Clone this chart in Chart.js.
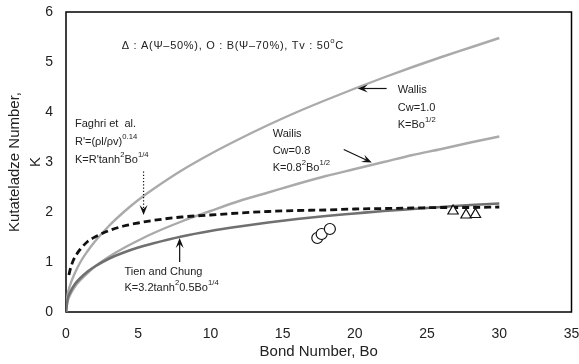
<!DOCTYPE html>
<html><head><meta charset="utf-8">
<script src="https://cdn.jsdelivr.net/npm/chart.js@4/dist/chart.umd.min.js"></script>
<style>html,body{margin:0;padding:0;background:#fff;}</style>
</head><body>
<canvas id="c" width="579" height="364"></canvas>
<script>
// ---- data ----
const boCurve   = [0,0.1,0.3,0.6,1,1.5,2,3,4,5,6,8,10,12,14,16,18,20,22,24,26,28,30];
const wallis10  = [0,0.32,0.55,0.77,1.0,1.22,1.41,1.73,2.0,2.24,2.45,2.83,3.16,3.46,3.74,4.0,4.24,4.47,4.69,4.9,5.1,5.29,5.48];
const wallis08  = [0,0.2,0.35,0.5,0.64,0.78,0.91,1.11,1.28,1.43,1.57,1.81,2.02,2.22,2.39,2.56,2.72,2.86,3.0,3.14,3.26,3.39,3.51];
const tienChung = [0,0.24,0.40,0.55,0.68,0.81,0.91,1.07,1.19,1.29,1.37,1.51,1.62,1.71,1.79,1.86,1.92,1.97,2.02,2.06,2.10,2.14,2.17];
const boFaghri  = [0.2,0.3,0.5,0.75,1,1.5,2,3,4,5,6,8,10,12,14,16,18,20,22,24,26,28,30];
const faghri    = [0.74,0.86,1.03,1.16,1.26,1.41,1.50,1.63,1.72,1.78,1.83,1.90,1.94,1.98,2.01,2.03,2.04,2.06,2.07,2.08,2.09,2.09,2.10];
const boA = [26.8,27.7,28.35];
const kA  = [2.02,1.94,1.95];
const boB = [17.4,17.7,18.27];
const kB  = [1.48,1.56,1.66];
const xTickValues = [0,5,10,15,20,25,30,35];
const yTickValues = [0,1,2,3,4,5,6];

const pts = (xs, ys) => xs.map((x, i) => ({x, y: ys[i]}));
const FONT = '"Liberation Sans", Arial, sans-serif';
const INK = '#222';

function rich(ctx, x, y, parts, size, spacing) {
  let cx = x;
  ctx.letterSpacing = (spacing || 0) + 'px';
  for (const p of parts) {
    const s = p.sup ? size * 0.7 : size;
    ctx.font = s + 'px ' + FONT;
    ctx.fillText(p.t, cx, p.sup ? y - size * 0.42 : y);
    cx += ctx.measureText(p.t).width;
  }
  ctx.letterSpacing = '0px';
}
function arrow(ctx, x1, y1, x2, y2, dotted) {
  const a = Math.atan2(y2 - y1, x2 - x1);
  const L = 10, W = 4;
  ctx.save();
  ctx.strokeStyle = '#111'; ctx.fillStyle = '#111'; ctx.lineWidth = 1.2;
  if (dotted) ctx.setLineDash([1.2, 2]);
  ctx.beginPath(); ctx.moveTo(x1, y1);
  ctx.lineTo(x2 - Math.cos(a) * L * 0.6, y2 - Math.sin(a) * L * 0.6); ctx.stroke();
  ctx.setLineDash([]);
  ctx.beginPath();
  ctx.moveTo(x2, y2);
  ctx.lineTo(x2 - Math.cos(a) * L - Math.sin(a) * W, y2 - Math.sin(a) * L + Math.cos(a) * W);
  ctx.lineTo(x2 - Math.cos(a) * L * 0.6, y2 - Math.sin(a) * L * 0.6);
  ctx.lineTo(x2 - Math.cos(a) * L + Math.sin(a) * W, y2 - Math.sin(a) * L - Math.cos(a) * W);
  ctx.closePath(); ctx.fill();
  ctx.restore();
}

const annot = {
  id: 'annot',
  beforeDatasetsDraw(chart) {
    const {ctx, chartArea: a} = chart;
    ctx.save();
    ctx.strokeStyle = '#000'; ctx.lineWidth = 1.5;
    ctx.strokeRect(a.left, a.top, a.right - a.left, a.bottom - a.top);
    ctx.restore();
  },
  afterDatasetsDraw(chart) {
    const {ctx} = chart;
    const xs = chart.scales.x, ys = chart.scales.y;
    const X = v => xs.getPixelForValue(v), Y = v => ys.getPixelForValue(v);
    ctx.save();
    ctx.fillStyle = INK; ctx.textBaseline = 'middle'; ctx.textAlign = 'left';
    const fs = 11;
    rich(ctx, X(3.86), Y(5.32), [{t:'\u0394 : A(\u03A8\u201350%), O : B(\u03A8\u201370%), Tv : 50'},{t:'o',sup:true},{t:'C'}], fs, 0.7);
    rich(ctx, X(0.62), Y(3.77), [{t:'Faghri et  al.'}], fs);
    rich(ctx, X(0.62), Y(3.41), [{t:'R\'=(\u03C1l/\u03C1v)'},{t:'0.14',sup:true}], fs);
    rich(ctx, X(0.62), Y(3.04), [{t:'K=R\'tanh'},{t:'2',sup:true},{t:'Bo'},{t:'1/4',sup:true}], fs);
    rich(ctx, X(22.97), Y(4.45), [{t:'Wallis'}], fs);
    rich(ctx, X(22.97), Y(4.09), [{t:'Cw=1.0'}], fs);
    rich(ctx, X(22.97), Y(3.75), [{t:'K=Bo'},{t:'1/2',sup:true}], fs);
    rich(ctx, X(14.31), Y(3.57), [{t:'Wailis'}], fs);
    rich(ctx, X(14.31), Y(3.23), [{t:'Cw=0.8'}], fs);
    rich(ctx, X(14.31), Y(2.89), [{t:'K=0.8'},{t:'2',sup:true},{t:'Bo'},{t:'1/2',sup:true}], fs);
    rich(ctx, X(4.05), Y(0.80), [{t:'Tien and Chung'}], fs);
    rich(ctx, X(4.05), Y(0.48), [{t:'K=3.2tanh'},{t:'2',sup:true},{t:'0.5Bo'},{t:'1/4',sup:true}], fs);
    arrow(ctx, X(5.37), Y(2.81), X(5.37), Y(1.94), true);
    arrow(ctx, X(22.2), Y(4.47), X(20.2), Y(4.47), false);
    arrow(ctx, X(19.23), Y(3.25), X(21.17), Y(2.99), false);
    arrow(ctx, X(7.87), Y(1.0), X(7.87), Y(1.48), false);
    ctx.restore();
  }
};

new Chart(document.getElementById('c'), {
  type: 'scatter',
  data: {
    datasets: [
      {data: pts(boA, kA), pointStyle: 'triangle', pointRadius: 6, backgroundColor: '#fff', borderColor: '#111', borderWidth: 1.2, order: 0},
      {data: pts(boB, kB), pointStyle: 'circle', pointRadius: 5.5, backgroundColor: '#fff', borderColor: '#111', borderWidth: 1.2, order: 0},
      {data: pts(boFaghri, faghri), showLine: true, pointRadius: 0, borderColor: '#111', borderWidth: 2.8, borderDash: [7, 4], cubicInterpolationMode: 'monotone', order: 1},
      {data: pts(boCurve, tienChung), showLine: true, pointRadius: 0, borderColor: '#707070', borderWidth: 2.6, cubicInterpolationMode: 'monotone', order: 2},
      {data: pts(boCurve, wallis08), showLine: true, pointRadius: 0, borderColor: '#aaaaaa', borderWidth: 2.4, cubicInterpolationMode: 'monotone', order: 3},
      {data: pts(boCurve, wallis10), showLine: true, pointRadius: 0, borderColor: '#aaaaaa', borderWidth: 2.4, cubicInterpolationMode: 'monotone', order: 3}
    ]
  },
  options: {
    responsive: false, animation: false, devicePixelRatio: 1,
    layout: {padding: {top: 12, right: 7.5, left: 0, bottom: 0}},
    plugins: {legend: {display: false}, tooltip: {enabled: false}},
    scales: {
      x: {
        type: 'linear', min: 0, max: 35,
        afterBuildTicks: s => { s.ticks = xTickValues.map(v => ({value: v})); },
        afterFit: s => { s.height = 52; s.paddingLeft = 0; s.paddingRight = 0; },
        grid: {display: false, drawTicks: false},
        border: {display: false},
        ticks: {padding: 14, color: INK, font: {family: FONT, size: 14}},
        title: {display: true, text: 'Bond Number, Bo', color: INK, font: {family: FONT, size: 15}, padding: {top: 0, bottom: 3}}
      },
      y: {
        type: 'linear', min: 0, max: 6,
        afterBuildTicks: s => { s.ticks = yTickValues.map(v => ({value: v})); },
        afterFit: s => { s.width = 66; s.paddingTop = 0; s.paddingBottom = 0; },
        grid: {display: false, drawTicks: false},
        border: {display: false},
        ticks: {padding: 13, color: INK, font: {family: FONT, size: 14}},
        title: {display: true, text: ['Kutateladze Number,', 'K'], color: INK, font: {family: FONT, size: 15, lineHeight: 1.35}, padding: {top: 5, bottom: 0}}
      }
    }
  },
  plugins: [annot]
});
</script>
</body></html>
